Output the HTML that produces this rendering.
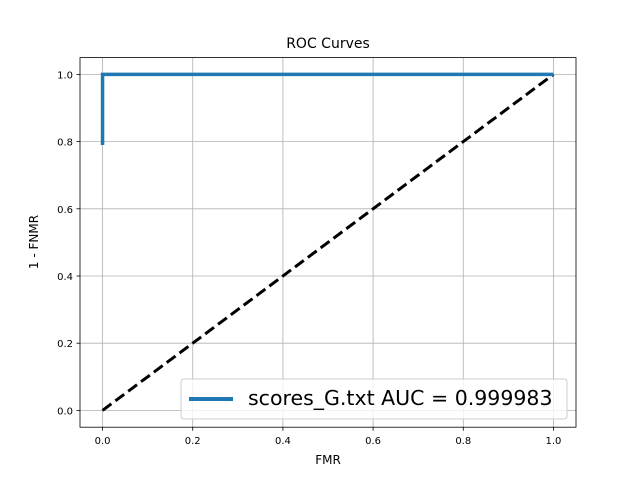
<!DOCTYPE html>
<html><head><meta charset="utf-8"><style>
body{margin:0;background:#fff;}
svg text{font-family:"DejaVu Sans","Liberation Sans",sans-serif;fill:#000;}
</style></head><body>
<svg id="chart" width="640" height="480" viewBox="0 0 640 480">
<rect width="640" height="480" fill="#fff"/>
<text x="328" y="48" font-size="14" text-anchor="middle">ROC Curves</text>
<g id="grid"></g>
<g id="series"></g>
<rect x="80" y="57.6" width="496" height="369.6" fill="none" stroke="#000" stroke-width="0.8"/>
<g id="ticks"></g>
<text x="328" y="464" font-size="12" text-anchor="middle">FMR</text>
<text transform="translate(38,242) rotate(-90)" font-size="12" text-anchor="middle">1 - FNMR</text>
<g>
<rect x="181" y="379" width="386" height="40" rx="3" fill="#fff" fill-opacity="0.8" stroke="#ccc" stroke-width="1"/>
<line x1="189" y1="399" x2="233" y2="399" stroke="#1f77b4" stroke-width="4"/>
<text x="248" y="405" font-size="20.5">scores_G.txt AUC = 0.999983</text>
</g>
</svg>
<script>
const xTicks=[0,0.2,0.4,0.6,0.8,1.0];
const yTicks=[0,0.2,0.4,0.6,0.8,1.0];
const tickLabels=["0.0","0.2","0.4","0.6","0.8","1.0"];
const rocFmr=[0,0,1];
const rocTpr=[0.79,1,1];
const chanceFmr=[0,1];
const chanceTpr=[0,1];
const NS="http://www.w3.org/2000/svg";
const L=80,R=576,T=57.6,B=427.2,min=-0.05,max=1.05;
const sx=v=>L+(v-min)/(max-min)*(R-L);
const sy=v=>B-(v-min)/(max-min)*(B-T);
function mk(tag,a,parent){const e=document.createElementNS(NS,tag);for(const k in a)e.setAttribute(k,a[k]);document.getElementById(parent).appendChild(e);return e;}
xTicks.forEach((v,i)=>{
 const g=mk('line',{x1:sx(v),x2:sx(v),y1:T,y2:B,stroke:'#b0b0b0','stroke-width':0.8},'grid');
 
 
 mk('line',{x1:sx(v),x2:sx(v),y1:B,y2:B+3.5,stroke:'#000','stroke-width':0.8},'ticks');
 const t=mk('text',{x:sx(v),y:B+17,'font-size':10,'text-anchor':'middle'},'ticks');t.textContent=tickLabels[i];
 
 
});
yTicks.forEach((v,i)=>{
 const g=mk('line',{x1:L,x2:R,y1:sy(v),y2:sy(v),stroke:'#b0b0b0','stroke-width':0.8},'grid');
 
 
 mk('line',{x1:L-3.5,x2:L,y1:sy(v),y2:sy(v),stroke:'#000','stroke-width':0.8},'ticks');
 const t=mk('text',{x:L-7,y:sy(v)+4,'font-size':10,'text-anchor':'end'},'ticks');t.textContent=tickLabels[i];
 
 
});
const ch=mk('polyline',{points:chanceFmr.map((v,i)=>sx(v)+','+sy(chanceTpr[i])).join(' '),fill:'none',stroke:'#000','stroke-width':3,'stroke-dasharray':'11,5'},'series');


const roc=mk('polyline',{points:rocFmr.map((v,i)=>sx(v)+','+sy(rocTpr[i])).join(' '),fill:'none',stroke:'#1f77b4','stroke-width':3.5},'series');


</script>
</body></html>
